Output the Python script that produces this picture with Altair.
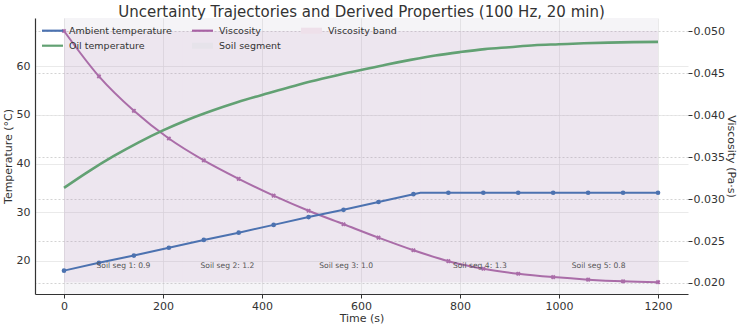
import altair as alt
import pandas as pd

FONT = "DejaVu Sans"
TITLE = "Uncertainty Trajectories and Derived Properties (100 Hz, 20 min)"

# Sample instants (s) where markers are drawn
sample_t = [0.0, 70.6, 141.2, 211.8, 282.4, 352.9, 423.5, 494.1, 564.7,
            635.3, 705.9, 776.5, 847.1, 917.6, 988.2, 1058.8, 1129.4, 1200.0]

# Ambient temperature (°C) at the sample instants, plus the ramp end point
ambient_T = [18.0, 19.6, 21.1, 22.7, 24.3, 25.8, 27.4, 29.0, 30.5,
             32.1, 33.7, 34.0, 34.0, 34.0, 34.0, 34.0, 34.0, 34.0]
ramp_end_t = [720.0]
ramp_end_T = [34.0]

# Viscosity (Pa·s) at the sample instants
viscosity = [0.0500, 0.0446, 0.0405, 0.0372, 0.0346, 0.0324, 0.0304, 0.0286, 0.0270,
             0.0254, 0.0239, 0.0226, 0.0217, 0.0211, 0.0207, 0.0204, 0.0202, 0.0201]

# Oil temperature (°C)
oil_t = [0, 50, 100, 150, 200, 250, 300, 350, 400, 450, 500, 550, 600,
         650, 700, 750, 800, 850, 900, 950, 1000, 1050, 1100, 1150, 1200]
oil_T = [35.0, 38.4, 41.5, 44.3, 46.8, 49.0, 50.9, 52.6, 54.1, 55.5, 56.9, 58.1, 59.2,
         60.3, 61.3, 62.2, 62.9, 63.5, 63.9, 64.3, 64.5, 64.7, 64.85, 64.95, 65.0]

# Soil segments: boundaries (s) and factor per segment
seg_edges = [0, 240, 420, 720, 960, 1200]
seg_factor = [0.9, 1.2, 1.0, 1.3, 0.8]
seg_label_T = 18.9

C_AMB = "#4c72b0"
C_OIL = "#62a173"
C_VISC = "#a862a4"
C_SOIL = "#b8b4c4"
C_TEXT = "#333333"

amb_df = pd.DataFrame({"t": sample_t, "T": ambient_T})
amb_line_df = pd.concat(
    [amb_df, pd.DataFrame({"t": ramp_end_t, "T": ramp_end_T})]
).sort_values("t")
oil_df = pd.DataFrame({"t": oil_t, "T": oil_T})
visc_df = pd.DataFrame({"t": sample_t, "v": viscosity})
seg_df = pd.DataFrame({"start": seg_edges[:-1], "end": seg_edges[1:], "factor": seg_factor})
seg_df["mid"] = (seg_df["start"] + seg_df["end"]) / 2
seg_df["label"] = [f"Soil seg {i + 1}: {f}" for i, f in enumerate(seg_factor)]
seg_df["T"] = seg_label_T
band_df = pd.DataFrame({"t0": [sample_t[0]], "t1": [sample_t[-1]],
                        "lo": [min(viscosity)], "hi": [max(viscosity)]})

x_scale = alt.Scale(domain=[-58.6, 1260.6], nice=False, zero=False)
T_scale = alt.Scale(domain=[13.2, 69.9], nice=False, zero=False)
v_scale = alt.Scale(domain=[0.01869, 0.05155], nice=False, zero=False)

x_axis = alt.Axis(title="Time (s)", values=[0, 200, 400, 600, 800, 1000, 1200], format="d",
                  grid=True, gridColor="#e4e4e4", gridWidth=0.8,
                  domain=True, domainColor=C_TEXT, domainWidth=1.2,
                  ticks=True, tickSize=4, tickColor=C_TEXT, labelPadding=2,
                  labelFontSize=11, labelFont=FONT, labelColor=C_TEXT,
                  titleFontSize=11, titleFont=FONT, titleColor=C_TEXT,
                  titleFontWeight="normal", titlePadding=1)
T_axis = alt.Axis(title="Temperature (°C)", orient="left", values=[20, 30, 40, 50, 60],
                  grid=True, gridColor="#e4e4e4", gridWidth=0.8,
                  domain=True, domainColor=C_TEXT, domainWidth=1.2,
                  ticks=False, labelPadding=5,
                  labelFontSize=11, labelFont=FONT, labelColor=C_TEXT,
                  titleFontSize=11, titleFont=FONT, titleColor=C_TEXT,
                  titleFontWeight="normal", titlePadding=3)
v_axis = alt.Axis(title="Viscosity (Pa·s)", orient="right",
                  values=[0.020, 0.025, 0.030, 0.035, 0.040, 0.045, 0.050], format=".3f",
                  grid=True, gridColor="#c8c8c8", gridWidth=0.8, gridDash=[2, 2],
                  domain=False, ticks=True, tickSize=4, tickColor=C_TEXT, labelPadding=1,
                  labelFontSize=11, labelFont=FONT, labelColor=C_TEXT,
                  titleFontSize=11, titleFont=FONT, titleColor=C_TEXT,
                  titleFontWeight="normal", titlePadding=1)

# Viscosity axis group
band = alt.Chart(band_df).mark_rect(color=C_VISC, opacity=0.1).encode(
    x=alt.X("t0:Q", scale=x_scale, axis=x_axis), x2="t1:Q",
    y=alt.Y("lo:Q", scale=v_scale, axis=v_axis), y2="hi:Q")
visc_line = alt.Chart(visc_df).mark_line(color=C_VISC, strokeWidth=2,
                                         interpolate="monotone").encode(
    x=alt.X("t:Q", scale=x_scale, axis=x_axis),
    y=alt.Y("v:Q", scale=v_scale, axis=v_axis))
visc_pts = alt.Chart(visc_df).mark_point(shape="cross", angle=45, filled=True,
                                         color=C_VISC, size=22, opacity=1).encode(
    x=alt.X("t:Q", scale=x_scale, axis=x_axis),
    y=alt.Y("v:Q", scale=v_scale, axis=v_axis))
right_group = alt.layer(band, visc_line, visc_pts)

# Temperature axis group
soil = alt.Chart(seg_df).mark_rect(color=C_SOIL, opacity=0.14).encode(
    x=alt.X("start:Q", scale=x_scale, axis=x_axis), x2="end:Q")
amb_line = alt.Chart(amb_line_df).mark_line(color=C_AMB, strokeWidth=2).encode(
    x=alt.X("t:Q", scale=x_scale, axis=x_axis),
    y=alt.Y("T:Q", scale=T_scale, axis=T_axis))
amb_pts = alt.Chart(amb_df).mark_point(shape="circle", filled=True, color=C_AMB,
                                       size=22, opacity=1).encode(
    x=alt.X("t:Q", scale=x_scale, axis=x_axis),
    y=alt.Y("T:Q", scale=T_scale, axis=T_axis))
oil_line = alt.Chart(oil_df).mark_line(color=C_OIL, strokeWidth=2.6,
                                       interpolate="monotone").encode(
    x=alt.X("t:Q", scale=x_scale, axis=x_axis),
    y=alt.Y("T:Q", scale=T_scale, axis=T_axis))
seg_text = alt.Chart(seg_df).mark_text(font=FONT, fontSize=7.6, color="#555555",
                                       align="center", baseline="middle").encode(
    x=alt.X("mid:Q", scale=x_scale, axis=x_axis),
    y=alt.Y("T:Q", scale=T_scale, axis=T_axis),
    text="label:N")
left_group = alt.layer(soil, amb_line, amb_pts, oil_line, seg_text)

# Legend (three columns, upper left of the plot)
leg_labels = ["Ambient temperature", "Oil temperature", "Viscosity",
              "Soil segment", "Viscosity band"]
leg_kind = ["line", "line", "line", "patch", "patch"]
leg_color = [C_AMB, C_OIL, C_VISC, "#e6e3ea", "#eee0ea"]
leg_col = [0, 0, 1, 1, 2]
leg_row = [0, 1, 0, 1, 0]
col_x = [7, 157, 266]
row_y = [12.7, 27.7]
sw = 21
leg_df = pd.DataFrame({"label": leg_labels, "kind": leg_kind, "color": leg_color})
leg_df["x0"] = [col_x[c] for c in leg_col]
leg_df["x1"] = leg_df["x0"] + sw
leg_df["xt"] = leg_df["x1"] + 6
leg_df["y"] = [row_y[r] for r in leg_row]
leg_df["ya"] = leg_df["y"] - 3
leg_df["yb"] = leg_df["y"] + 3

lx = alt.X("x0:Q", scale=None, axis=None)
ly = alt.Y("y:Q", scale=None, axis=None)
leg_lines = alt.Chart(leg_df).transform_filter("datum.kind == 'line'").mark_rule(
    strokeWidth=2.2).encode(x=lx, x2="x1:Q", y=ly,
                            color=alt.Color("color:N", scale=None))
leg_patches = alt.Chart(leg_df).transform_filter("datum.kind == 'patch'").mark_rect().encode(
    x=lx, x2="x1:Q", y=alt.Y("ya:Q", scale=None, axis=None), y2="yb:Q",
    color=alt.Color("color:N", scale=None))
leg_text = alt.Chart(leg_df).mark_text(font=FONT, fontSize=9.5, color=C_TEXT,
                                       align="left", baseline="middle").encode(
    x=alt.X("xt:Q", scale=None, axis=None), y=ly, text="label:N")
legend_group = alt.layer(leg_lines, leg_patches, leg_text)

chart = alt.layer(right_group, left_group, legend_group).resolve_scale(
    y="independent"
).properties(
    width=653, height=276,
    padding={"left": 35, "top": 18, "right": 52, "bottom": 31},
    autosize=alt.AutoSizeParams(type="none"),
    title=alt.TitleParams(TITLE, font=FONT, fontSize=15, fontWeight="normal",
                          color=C_TEXT, anchor="middle", offset=-2),
    background="white",
).configure_view(stroke=None)

chart.save("out.html", embed_options={"renderer": "svg", "actions": False})
